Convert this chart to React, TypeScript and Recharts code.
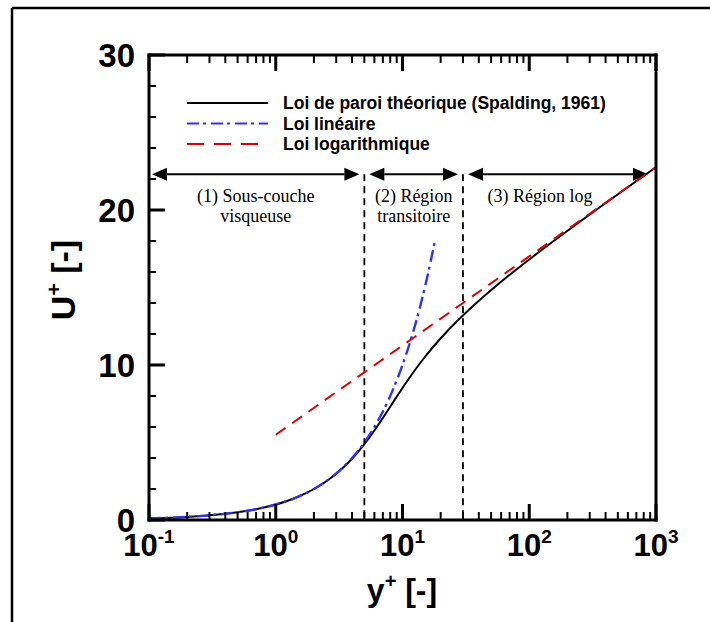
import React from 'react';
import { LineChart, Line, XAxis, YAxis, ReferenceLine, Legend } from 'recharts';

const spaldingYp = [0.1, 0.2, 0.3, 0.4, 0.5, 0.7, 1.0, 1.5, 2.002, 2.506, 3.012, 3.524, 4.043, 4.573, 5.117, 5.681, 6.27, 6.894, 7.561, 8.285, 9.08, 9.966, 10.966, 12.108, 13.427, 14.967, 16.781, 18.933, 21.502, 24.586, 28.303, 38.251, 52.941, 74.754, 107.25, 155.74, 228.14, 336.29, 497.84, 739.11, 901.26, 1000];
const spaldingUp = [0.1, 0.2, 0.3, 0.4, 0.5, 0.7, 1.0, 1.5, 2, 2.5, 3, 3.5, 4, 4.5, 5, 5.5, 6, 6.5, 7, 7.5, 8, 8.5, 9, 9.5, 10, 10.5, 11, 11.5, 12, 12.5, 13, 14, 15, 16, 17, 18, 19, 20, 21, 22, 22.5, 22.76];

// Loi linéaire U+ = y+
const linYp = [0.1, 0.15, 0.2, 0.3, 0.5, 0.7, 1, 1.5, 2, 3, 4, 5, 6, 8, 10, 12, 14, 16, 18];
const linUp = [0.1, 0.15, 0.2, 0.3, 0.5, 0.7, 1, 1.5, 2, 3, 4, 5, 6, 8, 10, 12, 14, 16, 18];

// Loi logarithmique
const logYp = [1, 10, 100, 1000];
const logUp = [5.5, 11.26, 17.01, 22.77];

const seriesNames = ['Loi de paroi théorique (Spalding, 1961)', 'Loi linéaire', 'Loi logarithmique'];

// régions
const regionFrom = [0.1055, 5.47, 32.9];
const regionTo = [4.57, 27.4, 865];
const regionLabels = [['(1) Sous-couche', 'visqueuse'], ['(2) Région', 'transitoire'], ['(3) Région log']];
const regionLevel = 22.3;
const boundaries = [5, 30];

const xTicks = [
  0.1, 0.2, 0.3, 0.4, 0.5, 0.6, 0.7, 0.8, 0.9,
  1, 2, 3, 4, 5, 6, 7, 8, 9,
  10, 20, 30, 40, 50, 60, 70, 80, 90,
  100, 200, 300, 400, 500, 600, 700, 800, 900, 1000,
];
const yTicks = [0, 2, 4, 6, 8, 10, 12, 14, 16, 18, 20, 22, 24, 26, 28, 30];

const toRows = (xs: number[], ys: number[]) => xs.map((v, i) => ({ yp: v, up: ys[i] }));

const SANS = "'Liberation Sans', Arial, Helvetica, sans-serif";
const SERIF = "'Liberation Serif', 'Times New Roman', serif";
const colors = ['#000000', '#3030ff', '#e00000'];
const plotDash = ['', '12 4 3 5', '12 8'];
const legendDash = ['', '12 4 3 5', '17 10'];

const isDecade = (v: number) => Math.abs(Math.log10(v) - Math.round(Math.log10(v))) < 1e-6;

const BottomTick = (props: any) => {
  const { x, y, payload } = props;
  const v = payload.value;
  const major = isDecade(v);
  return (
    <g>
      <line x1={x} x2={x} y1={y} y2={y - (major ? 16 : 8)} stroke="#000" strokeWidth={major ? 3 : 2} />
      {major && (
        <text x={x} y={y + 36} textAnchor="middle" fontFamily={SANS} fontWeight="bold" fontSize={31} fill="#000">
          10<tspan fontSize={19} dy={-13}>{Math.round(Math.log10(v))}</tspan>
        </text>
      )}
    </g>
  );
};

const TopTick = (props: any) => {
  const { x, y, payload } = props;
  const major = isDecade(payload.value);
  return <line x1={x} x2={x} y1={y} y2={y + (major ? 16 : 8)} stroke="#000" strokeWidth={major ? 3 : 2} />;
};

const LeftTick = (props: any) => {
  const { x, y, payload } = props;
  const v = payload.value;
  const major = v % 10 === 0;
  return (
    <g>
      <line x1={x} x2={x + (major ? 16 : 7)} y1={y} y2={y} stroke="#000" strokeWidth={major ? 3 : 2} />
      {major && (
        <text x={x - 14} y={y} textAnchor="end" dominantBaseline="central" fontFamily={SANS} fontWeight="bold" fontSize={33} fill="#000">
          {v}
        </text>
      )}
    </g>
  );
};

const RightTick = (props: any) => {
  const { x, y, payload } = props;
  const major = payload.value % 10 === 0;
  return <line x1={x} x2={x - (major ? 16 : 7)} y1={y} y2={y} stroke="#000" strokeWidth={major ? 3 : 2} />;
};

const arrowShape = (lines: string[], dx: number) => (props: any) => {
  const { x1, y1, x2, y2 } = props;
  const head = 15;
  const half = 6.5;
  const mid = (x1 + x2) / 2 + dx;
  return (
    <g>
      <line x1={x1 + head} y1={y1} x2={x2 - head} y2={y2} stroke="#000" strokeWidth={2} />
      <polygon points={`${x1},${y1} ${x1 + head},${y1 - half} ${x1 + head},${y1 + half}`} fill="#000" />
      <polygon points={`${x2},${y2} ${x2 - head},${y2 - half} ${x2 - head},${y2 + half}`} fill="#000" />
      <text x={mid} y={y1 + 28} textAnchor="middle" fontFamily={SERIF} fontSize={18} fill="#000">
        {lines.map((t, i) => (
          <tspan key={i} x={mid} dy={i === 0 ? 0 : 20}>{t}</tspan>
        ))}
      </text>
    </g>
  );
};

const LegendBox = (props: any) => {
  const { payload } = props;
  return (
    <svg width={420} height={64} style={{ display: 'block' }}>
      {(payload || []).map((p: any, i: number) => {
        const cy = 10 + i * 20.5;
        return (
          <g key={i}>
            <line x1={0} x2={81} y1={cy} y2={cy} stroke={p.color} strokeWidth={2.2} strokeDasharray={legendDash[i] || undefined} />
            <text x={96} y={cy} dominantBaseline="central" fontFamily={SANS} fontWeight="bold" fontSize={17.5} fill="#000">
              {p.value}
            </text>
          </g>
        );
      })}
    </svg>
  );
};

const axisLine = { stroke: '#000', strokeWidth: 3, strokeLinecap: 'square' as const };

export default function App() {
  const series = [toRows(spaldingYp, spaldingUp), toRows(linYp, linUp), toRows(logYp, logUp)];
  return (
    <div style={{ position: 'absolute', left: 0, top: 0, width: 710, height: 622, background: '#fff' }}>
      <LineChart width={710} height={622} margin={{ top: 54, right: 53, bottom: 101, left: 148 }}>
        <XAxis
          xAxisId="bottom"
          dataKey="yp"
          type="number"
          scale="log"
          domain={[0.1, 1000]}
          allowDataOverflow
          ticks={xTicks}
          interval={0}
          height={1}
          tickSize={0}
          tickMargin={0}
          tickLine={false}
          axisLine={axisLine}
          tick={<BottomTick />}
        />
        <XAxis
          xAxisId="top"
          orientation="top"
          dataKey="yp"
          type="number"
          scale="log"
          domain={[0.1, 1000]}
          allowDataOverflow
          ticks={xTicks}
          interval={0}
          height={1}
          tickSize={0}
          tickMargin={0}
          tickLine={false}
          axisLine={axisLine}
          tick={<TopTick />}
        />
        <YAxis
          yAxisId="left"
          type="number"
          domain={[0, 30]}
          ticks={yTicks}
          interval={0}
          width={1}
          tickSize={0}
          tickMargin={0}
          tickLine={false}
          axisLine={axisLine}
          tick={<LeftTick />}
        />
        <YAxis
          yAxisId="right"
          orientation="right"
          type="number"
          domain={[0, 30]}
          ticks={yTicks}
          interval={0}
          width={1}
          tickSize={0}
          tickMargin={0}
          tickLine={false}
          axisLine={axisLine}
          tick={<RightTick />}
        />
        {boundaries.map((b) => (
          <ReferenceLine
            key={b}
            xAxisId="bottom"
            yAxisId="left"
            segment={[{ x: b, y: regionLevel }, { x: b, y: 0 }]}
            stroke="#000"
            strokeWidth={1.8}
            strokeDasharray="7 5"
          />
        ))}
        {regionFrom.map((f, i) => (
          <ReferenceLine
            key={`r${i}`}
            xAxisId="bottom"
            yAxisId="left"
            segment={[{ x: f, y: regionLevel }, { x: regionTo[i], y: regionLevel }]}
            shape={arrowShape(regionLabels[i], i === 2 ? -18 : 0)}
          />
        ))}
        {series.map((d, i) => (
          <Line
            key={i}
            xAxisId="bottom"
            yAxisId="left"
            data={d}
            dataKey="up"
            name={seriesNames[i]}
            type="monotone"
            stroke={colors[i]}
            strokeWidth={i === 1 ? 2.4 : 2}
            strokeDasharray={plotDash[i] || undefined}
            dot={false}
            activeDot={false}
            isAnimationActive={false}
          />
        ))}
        <Legend
          layout="vertical"
          align="center"
          verticalAlign="middle"
          wrapperStyle={{ left: 187, top: 93, width: 420 }}
          content={<LegendBox />}
        />
      </LineChart>
      <svg width={710} height={622} style={{ position: 'absolute', left: 0, top: 0, pointerEvents: 'none' }}>
        <line x1={12} y1={8} x2={12} y2={622} stroke="#000" strokeWidth={2.5} />
        <line x1={12} y1={8} x2={710} y2={8} stroke="#000" strokeWidth={2.5} />
        <text x={402} y={601} textAnchor="middle" fontFamily={SANS} fontWeight="bold" fontSize={32} fill="#000">
          y<tspan fontSize={20} dy={-13}>+</tspan><tspan dy={13}> [-]</tspan>
        </text>
        <text
          x={0}
          y={0}
          transform="translate(75,280) rotate(-90)"
          textAnchor="middle"
          fontFamily={SANS}
          fontWeight="bold"
          fontSize={34}
          fill="#000"
        >
          U<tspan fontSize={21} dy={-14}>+</tspan><tspan dy={14}> [-]</tspan>
        </text>
      </svg>
    </div>
  );
}
